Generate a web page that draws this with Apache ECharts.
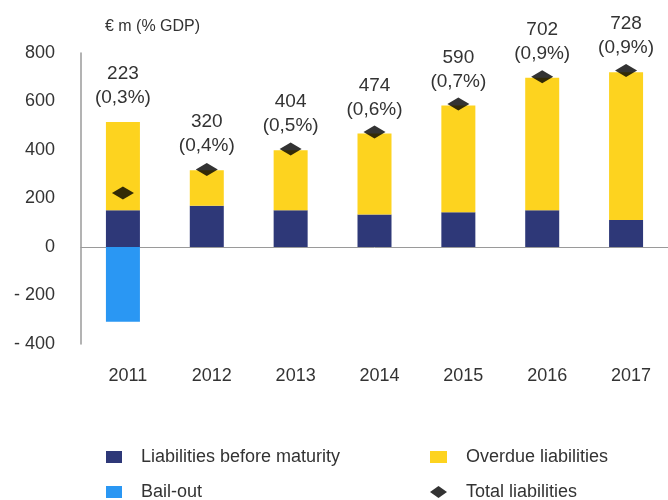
<!DOCTYPE html>
<html>
<head>
<meta charset="utf-8">
<script src="https://cdn.jsdelivr.net/npm/echarts@6/dist/echarts.min.js"></script>
<style>html,body{margin:0;padding:0;background:#fff;}#c{width:668px;height:500px;}</style>
</head>
<body>
<div id="c"></div>
<script>
var years = ['2011', '2012', '2013', '2014', '2015', '2016', '2017'];
var beforeMaturity = [152, 170, 152, 134, 143, 152, 111];
var overdue = [363, 147, 247, 334, 441, 546, 610];
var bailOut = [-308, null, null, null, null, null, null];
var totalLiab = [223, 320, 404, 474, 590, 702, 728];
var pctGDP = ['0,3%', '0,4%', '0,5%', '0,6%', '0,7%', '0,9%', '0,9%'];

var FONT = 'Liberation Sans, Arial, sans-serif';
var TXT = '#333333';
var chart = echarts.init(document.getElementById('c'));
chart.setOption({
  animation: false,
  backgroundColor: '#ffffff',
  textStyle: { fontFamily: FONT },
  title: {
    text: '€ m (% GDP)', left: 100, top: 14,
    textStyle: { fontSize: 16, fontWeight: 'normal', color: TXT, fontFamily: FONT }
  },
  grid: { left: 81, top: 53, width: 597, height: 291, containLabel: false },
  legend: [
    {
      left: 106, top: 447, height: 80, padding: 0, orient: 'vertical', itemGap: 15, itemWidth: 16, itemHeight: 12,
      icon: 'rect',
      textStyle: { fontSize: 18, lineHeight: 20, color: TXT, fontFamily: FONT, padding: [0, 0, 0, 14] },
      data: ['Liabilities before maturity', 'Bail-out']
    },
    {
      left: 430, top: 447, height: 80, padding: 0, orient: 'vertical', itemGap: 15, itemWidth: 17, itemHeight: 12,
      textStyle: { fontSize: 18, lineHeight: 20, color: TXT, fontFamily: FONT, padding: [0, 0, 0, 14] },
      data: [{ name: 'Overdue liabilities', icon: 'rect' }, { name: 'Total liabilities', icon: 'diamond' }]
    }
  ],
  xAxis: {
    type: 'category', data: years,
    axisLine: { onZero: true, lineStyle: { color: '#9a9a9a', width: 1 } },
    axisTick: { show: false },
    axisLabel: { fontSize: 18, color: TXT, margin: 23, fontFamily: FONT, padding: [0, 0, 0, 10] }
  },
  yAxis: {
    type: 'value', min: -400, max: 800, interval: 200,
    axisLine: { show: true, lineStyle: { color: '#9a9a9a', width: 1.5 } },
    axisTick: { show: false },
    splitLine: { show: false },
    axisLabel: {
      fontSize: 18, color: TXT, margin: 26, fontFamily: FONT,
      formatter: function (v) { return v < 0 ? '- ' + Math.abs(v) : String(v); }
    }
  },
  series: [
    {
      name: 'Liabilities before maturity', type: 'bar', stack: 's', barWidth: 34,
      itemStyle: { color: '#2e3878' }, data: beforeMaturity
    },
    {
      name: 'Bail-out', type: 'bar', stack: 's', barWidth: 34,
      itemStyle: { color: '#2a97f3' },
      data: bailOut.map(function (v) { return v == null ? '-' : v; })
    },
    {
      name: 'Overdue liabilities', type: 'bar', stack: 's', barWidth: 34,
      itemStyle: { color: '#fdd31f' }, data: overdue,
      label: {
        show: true, position: 'top', distance: 12,
        fontSize: 19, lineHeight: 24, color: TXT, fontFamily: FONT,
        formatter: function (p) { return totalLiab[p.dataIndex] + '\n(' + pctGDP[p.dataIndex] + ')'; }
      }
    },
    {
      name: 'Total liabilities', type: 'scatter', symbol: 'diamond', symbolSize: [22, 13],
      itemStyle: { color: '#000000' }, z: 10, data: totalLiab
    }
  ]
});
</script>
</body>
</html>
